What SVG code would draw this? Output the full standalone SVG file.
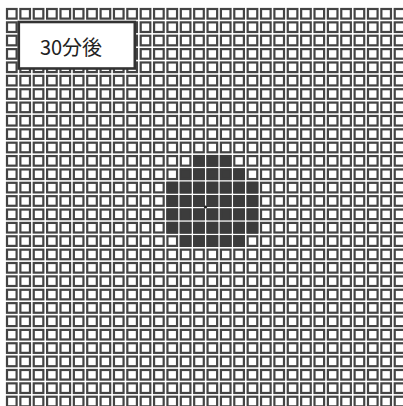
<svg xmlns="http://www.w3.org/2000/svg" xmlns:xlink="http://www.w3.org/1999/xlink" width="403" height="406" viewBox="0 0 403 406">
<style>
.c{fill:#fff;stroke:#444;stroke-width:2.2}
.d{fill:#3c3c3c;stroke:#3c3c3c;stroke-width:2.2}
.lbl{font-family:"Noto Sans CJK JP","Noto Sans",sans-serif;font-size:20px;fill:#222}
</style>
<defs>
<g id="row">
<rect class="c" x="7" y="0" width="9.6" height="9.6"/>
<rect class="c" x="20.37" y="0" width="9.6" height="9.6"/>
<rect class="c" x="33.74" y="0" width="9.6" height="9.6"/>
<rect class="c" x="47.11" y="0" width="9.6" height="9.6"/>
<rect class="c" x="60.48" y="0" width="9.6" height="9.6"/>
<rect class="c" x="73.85" y="0" width="9.6" height="9.6"/>
<rect class="c" x="87.22" y="0" width="9.6" height="9.6"/>
<rect class="c" x="100.59" y="0" width="9.6" height="9.6"/>
<rect class="c" x="113.96" y="0" width="9.6" height="9.6"/>
<rect class="c" x="127.33" y="0" width="9.6" height="9.6"/>
<rect class="c" x="140.7" y="0" width="9.6" height="9.6"/>
<rect class="c" x="154.07" y="0" width="9.6" height="9.6"/>
<rect class="c" x="167.44" y="0" width="9.6" height="9.6"/>
<rect class="c" x="180.81" y="0" width="9.6" height="9.6"/>
<rect class="c" x="194.18" y="0" width="9.6" height="9.6"/>
<rect class="c" x="207.55" y="0" width="9.6" height="9.6"/>
<rect class="c" x="220.92" y="0" width="9.6" height="9.6"/>
<rect class="c" x="234.29" y="0" width="9.6" height="9.6"/>
<rect class="c" x="247.66" y="0" width="9.6" height="9.6"/>
<rect class="c" x="261.03" y="0" width="9.6" height="9.6"/>
<rect class="c" x="274.4" y="0" width="9.6" height="9.6"/>
<rect class="c" x="287.77" y="0" width="9.6" height="9.6"/>
<rect class="c" x="301.14" y="0" width="9.6" height="9.6"/>
<rect class="c" x="314.51" y="0" width="9.6" height="9.6"/>
<rect class="c" x="327.88" y="0" width="9.6" height="9.6"/>
<rect class="c" x="341.25" y="0" width="9.6" height="9.6"/>
<rect class="c" x="354.62" y="0" width="9.6" height="9.6"/>
<rect class="c" x="367.99" y="0" width="9.6" height="9.6"/>
<rect class="c" x="381.36" y="0" width="9.6" height="9.6"/>
<rect class="c" x="394.73" y="0" width="9.6" height="9.6"/>
</g>
</defs>
<rect x="0" y="0" width="403" height="406" fill="#fff"/>
<g id="grid">
<use xlink:href="#row" y="9"/>
<use xlink:href="#row" y="22.37"/>
<use xlink:href="#row" y="35.74"/>
<use xlink:href="#row" y="49.11"/>
<use xlink:href="#row" y="62.48"/>
<use xlink:href="#row" y="75.85"/>
<use xlink:href="#row" y="89.22"/>
<use xlink:href="#row" y="102.59"/>
<use xlink:href="#row" y="115.96"/>
<use xlink:href="#row" y="129.33"/>
<use xlink:href="#row" y="142.7"/>
<use xlink:href="#row" y="156.07"/>
<use xlink:href="#row" y="169.44"/>
<use xlink:href="#row" y="182.81"/>
<use xlink:href="#row" y="196.18"/>
<use xlink:href="#row" y="209.55"/>
<use xlink:href="#row" y="222.92"/>
<use xlink:href="#row" y="236.29"/>
<use xlink:href="#row" y="249.66"/>
<use xlink:href="#row" y="263.03"/>
<use xlink:href="#row" y="276.4"/>
<use xlink:href="#row" y="289.77"/>
<use xlink:href="#row" y="303.14"/>
<use xlink:href="#row" y="316.51"/>
<use xlink:href="#row" y="329.88"/>
<use xlink:href="#row" y="343.25"/>
<use xlink:href="#row" y="356.62"/>
<use xlink:href="#row" y="369.99"/>
<use xlink:href="#row" y="383.36"/>
<use xlink:href="#row" y="396.73"/>
</g>
<g id="blob">
<rect class="d" x="194.18" y="156.07" width="9.6" height="9.6"/>
<rect class="d" x="207.55" y="156.07" width="9.6" height="9.6"/>
<rect class="d" x="220.92" y="156.07" width="9.6" height="9.6"/>
<rect class="d" x="180.81" y="169.44" width="9.6" height="9.6"/>
<rect class="d" x="194.18" y="169.44" width="9.6" height="9.6"/>
<rect class="d" x="207.55" y="169.44" width="9.6" height="9.6"/>
<rect class="d" x="220.92" y="169.44" width="9.6" height="9.6"/>
<rect class="d" x="234.29" y="169.44" width="9.6" height="9.6"/>
<g id="wide">
<rect class="d" x="167.44" y="182.81" width="9.6" height="9.6"/>
<rect class="d" x="180.81" y="182.81" width="9.6" height="9.6"/>
<rect class="d" x="194.18" y="182.81" width="9.6" height="9.6"/>
<rect class="d" x="207.55" y="182.81" width="9.6" height="9.6"/>
<rect class="d" x="220.92" y="182.81" width="9.6" height="9.6"/>
<rect class="d" x="234.29" y="182.81" width="9.6" height="9.6"/>
<rect class="d" x="247.66" y="182.81" width="9.6" height="9.6"/>
</g>
<use xlink:href="#wide" y="13.37"/>
<use xlink:href="#wide" y="26.74"/>
<use xlink:href="#wide" y="40.11"/>
<rect class="d" x="180.81" y="236.29" width="9.6" height="9.6"/>
<rect class="d" x="194.18" y="236.29" width="9.6" height="9.6"/>
<rect class="d" x="207.55" y="236.29" width="9.6" height="9.6"/>
<rect class="d" x="220.92" y="236.29" width="9.6" height="9.6"/>
<rect class="d" x="234.29" y="236.29" width="9.6" height="9.6"/>
<circle cx="205.5" cy="207" r="1.6" fill="#222"/>
</g>
<g id="label">
<rect x="18.8" y="22" width="116" height="46.5" fill="#fff" stroke="#333" stroke-width="2.6"/>
<text class="lbl" x="71" y="54.5" text-anchor="middle">30分後</text>
</g>
</svg>
